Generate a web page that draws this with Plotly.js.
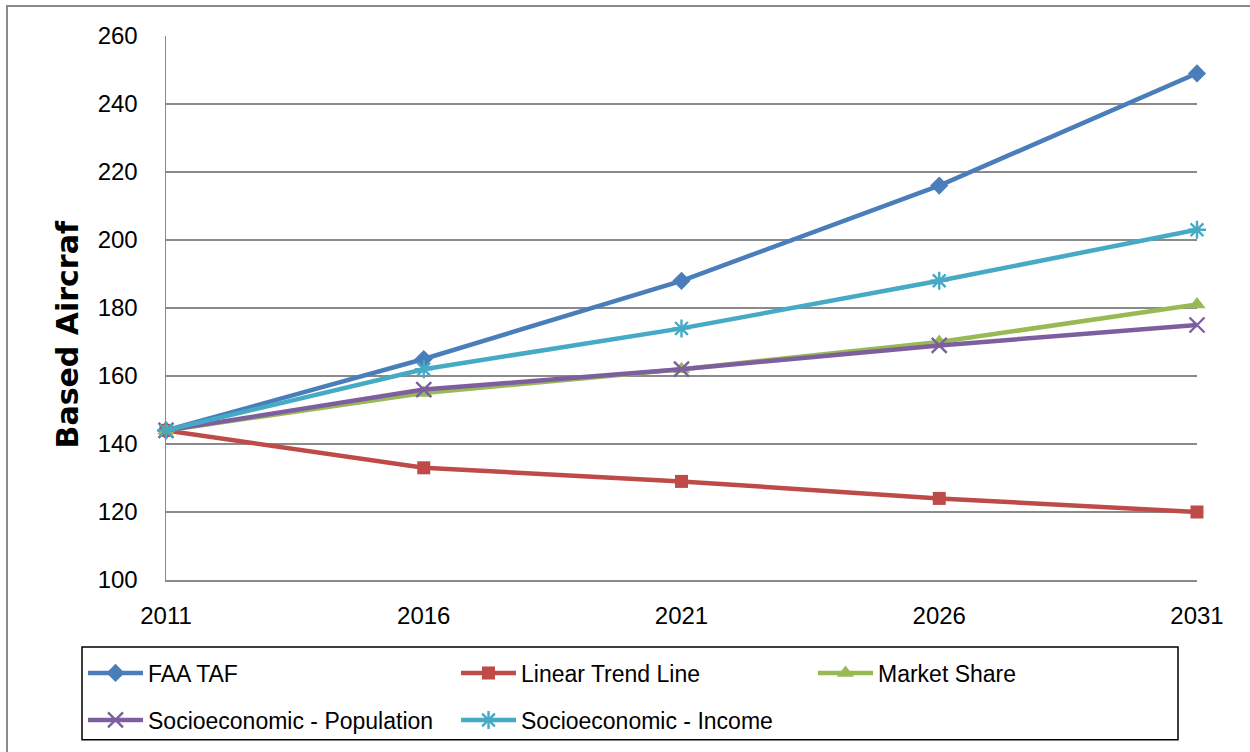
<!DOCTYPE html>
<html>
<head>
<meta charset="utf-8">
<script src="https://cdn.plot.ly/plotly-3.0.1.min.js"></script>
<style>html,body{margin:0;padding:0;background:#fff;}#chart{width:1250px;height:752px;}</style>
</head>
<body>
<div id="chart"></div>
<script>
const years = [2011, 2016, 2021, 2026, 2031];
const faaTaf = [144, 165, 188, 216, 249];
const linearTrend = [144, 133, 129, 124, 120];
const marketShare = [144, 155, 162, 170, 181];
const socioPopulation = [144, 156, 162, 169, 175];
const socioIncome = [144, 162, 174, 188, 203];
const seriesNames = ["FAA TAF", "Linear Trend Line", "Market Share", "Socioeconomic - Population", "Socioeconomic - Income"];
const yTicks = [100, 120, 140, 160, 180, 200, 220, 240, 260];
const yTitle = "Based Aircraf";

const W = 1250, H = 752;
const L = 166, R = 1197, T = 36, B = 581;
const px = x => (x - L) / (R - L);
const py = y => (B - y) / (B - T);

const colors = ["#4A7EBB", "#BE4B48", "#98B954", "#7D5FA0", "#46AAC5"];
const symbols = ["diamond", "square", "triangle-up", "x-thin-open", "asterisk-open"];
const sizes = [14, 13, 15, 15, 15];
const values = [faaTaf, linearTrend, marketShare, socioPopulation, socioIncome];
const legendIds = ["legend", "legend2", "legend3", "legend4", "legend5"];

const traces = values.map((v, i) => ({
  type: "scatter", mode: "lines+markers", x: years, y: v, name: seriesNames[i],
  line: {color: colors[i], width: 4.5},
  marker: {symbol: symbols[i], size: sizes[i], color: colors[i], line: {color: colors[i], width: (i >= 3 ? 2.4 : 0)}},
  cliponaxis: false, legend: legendIds[i]
}));

const legFont = {family: "Liberation Sans, Arial, sans-serif", size: 23, color: "#000"};
const legPos = [[83, 673], [456, 673], [813, 673], [83, 720], [456, 720]];
const layout = {
  width: W, height: H,
  margin: {l: L, r: W - R, t: T, b: H - B, pad: 0},
  paper_bgcolor: "#fff", plot_bgcolor: "#fff",
  showlegend: true,
  xaxis: {range: [2011, 2031], tickvals: years, ticktext: years.map(String), showgrid: false, zeroline: false,
    showline: true, linecolor: "#8a8a8a", linewidth: 1.5, ticks: "", ticklabelstandoff: 14,
    tickfont: {family: "Liberation Sans, Arial, sans-serif", size: 24, color: "#000"}, fixedrange: true},
  yaxis: {range: [100, 260], tickvals: yTicks, showgrid: true, gridcolor: "#8a8a8a", gridwidth: 1.5, zeroline: false,
    showline: true, linecolor: "#8a8a8a", linewidth: 1.5, ticks: "", ticklabelstandoff: 22,
    tickfont: {family: "Liberation Sans, Arial, sans-serif", size: 24, color: "#000"}, fixedrange: true},
  annotations: [{text: "<b>" + yTitle + "</b>", textangle: -90, xref: "paper", yref: "paper",
    x: px(67), y: py(335), xanchor: "center", yanchor: "middle", showarrow: false,
    font: {family: "DejaVu Sans, sans-serif", size: 30, color: "#000"}}],
  shapes: [
    {type: "rect", xref: "paper", yref: "paper", x0: px(7), x1: px(1262), y0: py(770), y1: py(6),
      line: {color: "#8a8a8a", width: 2}, fillcolor: "rgba(0,0,0,0)", layer: "below"},
    {type: "rect", xref: "paper", yref: "paper", x0: px(82), x1: px(1178), y0: py(741), y1: py(648),
      line: {color: "#000", width: 1.5}, fillcolor: "rgba(0,0,0,0)"}
  ]
};
legendIds.forEach((id, i) => {
  layout[id] = {x: px(legPos[i][0]), y: py(legPos[i][1]), xanchor: "left", yanchor: "middle",
    orientation: "h", bgcolor: "rgba(0,0,0,0)", borderwidth: 0, font: legFont, itemwidth: 55};
});

Plotly.newPlot("chart", traces, layout, {displayModeBar: false, staticPlot: true});
</script>
</body>
</html>
